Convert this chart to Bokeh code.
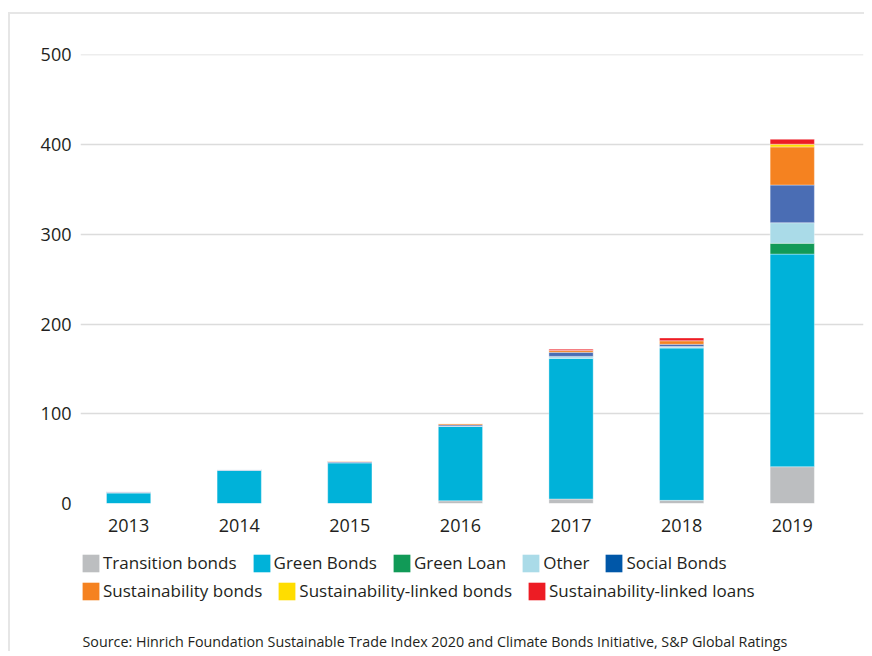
from bokeh.plotting import figure
from bokeh.layouts import column
from bokeh.models import Range1d, FixedTicker, Legend, LegendItem, Label
from bokeh.embed import file_html
from bokeh.resources import INLINE

years = [2013, 2014, 2015, 2016, 2017, 2018, 2019]
transition_bonds = [0, 0, 0, 3, 5, 3.5, 41]
green_bonds = [12, 37, 45.5, 83, 157, 170, 237]
green_loan = [0, 0, 0, 0, 0, 0, 12]
other = [0, 0, 0, 0, 2, 1.5, 23]
social_bonds = [1, 1, 1, 1.5, 4.5, 2.5, 42]
sustainability_bonds = [0, 0, 0.8, 1.5, 2, 4, 42.5]
sl_bonds = [0, 0, 0, 0, 0, 0, 3]
sl_loans = [0, 0, 0, 0, 1.5, 3, 5.5]
y_ticks = [0, 100, 200, 300, 400, 500]

series = ["Transition bonds", "Green Bonds", "Green Loan", "Other", "Social Bonds",
          "Sustainability bonds", "Sustainability-linked bonds", "Sustainability-linked loans"]
colors = ["#bcbec0", "#00b2d9", "#119a57", "#aadbe8", "#4a6db4",
          "#f58220", "#ffdd00", "#ed1c24"]
legend_colors = ["#bcbec0", "#00b2d9", "#119a57", "#aadbe8", "#0057a8",
                 "#f58220", "#ffdd00", "#ed1c24"]

data = {"year": years}
for name, vals in zip(series, [transition_bonds, green_bonds, green_loan, other, social_bonds,
                               sustainability_bonds, sl_bonds, sl_loans]):
    data[name] = vals

FONT = "Open Sans"
TXT = "#231f20"
X0, X1 = 2012.565, 2019.644

# ---- main chart ----
p = figure(x_range=Range1d(X0, X1), y_range=Range1d(0, 500.5), frame_width=781, frame_height=447,
           output_backend="svg", toolbar_location=None,
           min_border_left=70, min_border_right=3, min_border_top=40, min_border_bottom=40)
p.styles = {"border-top": "2px solid #e6e6e6", "border-left": "2px solid #e6e6e6",
            "margin": "12px 0px 0px 8px"}
p.outline_line_color = None

p.vbar_stack(series, x="year", width=0.4, source=data, color=colors,
             line_color="white", line_width=0.6, line_alpha=0.6)

p.xgrid.grid_line_color = None
p.ygrid.grid_line_color = "#dcdcdc"
p.ygrid.grid_line_width = 1.5
p.yaxis.ticker = FixedTicker(ticks=y_ticks)
p.xaxis.ticker = FixedTicker(ticks=years)
for ax in (p.xaxis[0], p.yaxis[0]):
    ax.axis_line_color = None
    ax.major_tick_line_color = None
    ax.minor_tick_line_color = None
    ax.major_label_text_font = FONT
    ax.major_label_text_font_size = "18px"
    ax.major_label_text_color = TXT
p.xaxis.major_label_standoff = 9
p.yaxis.major_label_standoff = 3

# ---- legend + source strip ----
q = figure(x_range=Range1d(X0, X1), y_range=Range1d(1000, 2000), width=854, height=110,
           output_backend="svg", toolbar_location=None,
           x_axis_location=None, y_axis_location=None,
           min_border_left=0, min_border_right=0, min_border_top=0, min_border_bottom=0)
q.styles = {"border-left": "2px solid #e6e6e6", "margin": "0px 0px 0px 8px"}
q.outline_line_color = None
q.grid.visible = False
lr = q.vbar_stack(series, x="year", width=0.4, source=data, color=legend_colors, line_color=None)

def make_legend(idx, loc):
    lg = Legend(items=[LegendItem(label=series[i], renderers=[lr[i]]) for i in idx],
                orientation="horizontal", location=loc,
                glyph_width=21, glyph_height=22, label_standoff=2, spacing=14,
                padding=0, margin=0, border_line_color=None, background_fill_alpha=0,
                label_text_font=FONT, label_text_font_size="17px", label_text_color=TXT)
    q.add_layout(lg, "center")

make_legend([0, 1, 2, 3, 4], (0, 77))
make_legend([5, 6, 7], (0, 49))

src = Label(x=2, y=10, x_units="screen", y_units="screen",
            text="Source: Hinrich Foundation Sustainable Trade Index 2020 and Climate Bonds Initiative, S&P Global Ratings",
            text_font=FONT, text_font_size="14.3px", text_color=TXT, text_baseline="middle")
q.add_layout(src)

layout = column(p, q, spacing=0)
open("out.html", "w").write(file_html(layout, INLINE))
